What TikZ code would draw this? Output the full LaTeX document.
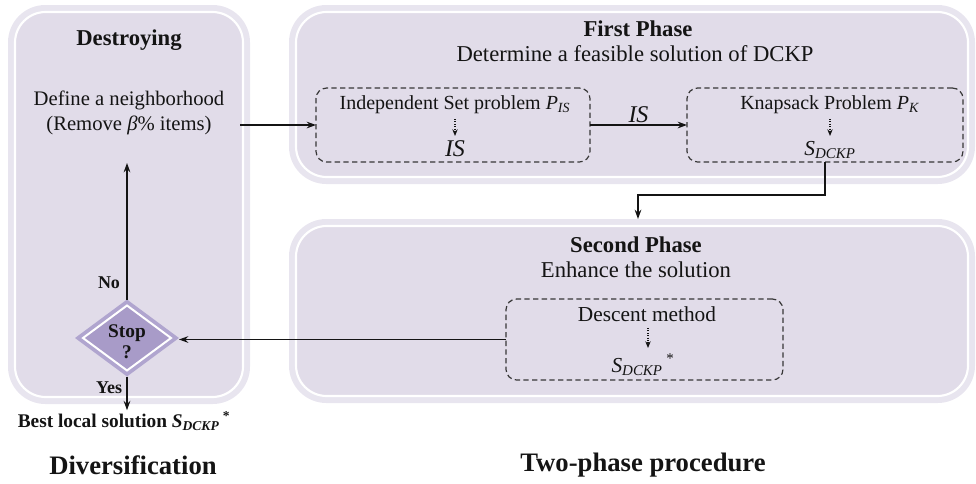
\documentclass[tikz,border=0pt]{standalone}
\usepackage{fontspec}
\setmainfont{Liberation Serif}
\usetikzlibrary{shapes.geometric,arrows.meta}
\definecolor{band}{HTML}{E8E5EF}
\definecolor{panelfill}{HTML}{E1DCE9}
\definecolor{dband}{HTML}{B0A5CF}
\definecolor{dfill}{HTML}{A89BC8}
\definecolor{ink}{HTML}{141414}
\newcommand{\SDCKP}{\textit{S}\textsubscript{\textit{DCKP}}}
\begin{document}
\begin{tikzpicture}[x=0.75pt,y=-0.75pt,
  every node/.style={text=ink, inner sep=1pt, outer sep=0pt},
  arr/.style={draw=ink, line width=1.1pt, -{Stealth[length=7pt,width=5pt]}},
  darr/.style={draw=ink, line width=0.8pt, densely dotted, -{Stealth[length=5pt,width=4pt]}},
  dbox/.style={draw=ink!85, line width=0.9pt, dash pattern=on 4pt off 2.5pt, rounded corners=8pt, inner sep=0pt},
  outerp/.style={fill=band, rounded corners=28pt, inner sep=0pt},
  innerp/.style={draw=white, line width=1.6pt, fill=panelfill, rounded corners=23pt, inner sep=0pt},
  ttl/.style={font=\bfseries\fontsize{17}{20}\selectfont},
  bigtxt/.style={font=\fontsize{17}{20}\selectfont},
  midtxt/.style={font=\fontsize{15.5}{18.75}\selectfont, align=center},
  inr/.style={font=\fontsize{15}{18}\selectfont},
  itl/.style={font=\itshape\fontsize{18}{20}\selectfont},
  hugetxt/.style={font=\bfseries\fontsize{20}{24}\selectfont},
  lbl/.style={font=\bfseries\fontsize{13.5}{16}\selectfont},
]
\useasboundingbox (0,0) rectangle (976,483);

% panels
\node[outerp, minimum width=181.5pt, minimum height=299.25pt] (leftpanel) at (129,204.5) {};
\node[innerp, minimum width=171pt, minimum height=288.75pt] (leftinner) at (129,204.5) {};
\node[outerp, minimum width=514.5pt, minimum height=134.25pt] (toppanel) at (632,94.5) {};
\node[innerp, minimum width=504pt, minimum height=123.75pt] (topinner) at (632,94.5) {};
\node[outerp, minimum width=514.5pt, minimum height=138pt] (botpanel) at (632,311) {};
\node[innerp, minimum width=504pt, minimum height=127.5pt] (botinner) at (632,311) {};

% left panel texts
\node[ttl] (dtitle) at (129,40) {Destroying};
\node[midtxt] (define) at (129,112.5) {Define a neighborhood\\(Remove \textit{β}\% items)};

% first phase
\node[ttl] (ftitle) at (638,29) {First Phase};
\node[bigtxt] (fsub) at (635,54) {Determine a feasible solution of DCKP};
\node[dbox, minimum width=205.5pt, minimum height=55.5pt] (isbox) at (453,125) {};
\node[dbox, minimum width=207pt, minimum height=55.5pt] (ksbox) at (825,125) {};
\node[inr] (isprob) at (455,105) {Independent Set problem \textit{P}\textsubscript{\textit{IS}}};
\node[itl] (isres) at (455,149) {IS};
\node[inr] (ksprob) at (830,105) {Knapsack Problem \textit{P}\textsubscript{\textit{K}}};
\node[font=\fontsize{16}{18}\selectfont] (ksres) at (830,150) {\SDCKP};
\coordinate (isa) at (455,119);
\coordinate (isb) at (455,136);
\coordinate (ksa) at (830,119);
\coordinate (ksb) at (830,136);
\draw[darr] (isa) -- (isb);
\draw[darr] (ksa) -- (ksb);
\draw[arr] (isbox.east) -- (ksbox.west) node[itl, midway, above=1pt] (islbl) {IS};

% second phase
\node[ttl] (stitle) at (636,245) {Second Phase};
\node[bigtxt] (ssub) at (636,270) {Enhance the solution};
\node[dbox, minimum width=207.75pt, minimum height=60.75pt] (dsbox) at (644.5,339.5) {};
\node[font=\fontsize{16}{18}\selectfont] (desc) at (647,314) {Descent method};
\node[font=\fontsize{16}{18}\selectfont] (dres) at (643,365) {\SDCKP\,\textsuperscript{*}};
\coordinate (dsa) at (648,328);
\coordinate (dsb) at (648,348);
\draw[darr] (dsa) -- (dsb);

% connector first -> second phase
\coordinate (bend) at (638,195);
\draw[arr] (ksbox.south) |- (bend) -- (botpanel.north -| bend);

% define -> first box
\coordinate (defout) at (240,125);
\draw[arr] (defout) -- (isbox.west);

% diamond
\node[shape=diamond, fill=dband, minimum width=78pt, minimum height=57.75pt, inner sep=0pt] (stop) at (127,338) {};
\node[shape=diamond, fill=dfill, draw=white, line width=1.5pt, minimum width=66pt, minimum height=48.75pt, inner sep=0pt] (stopin) at (127,338) {};
\node[lbl, align=center, font=\bfseries\fontsize{14.5}{16}\selectfont] (stoptxt) at (127,342) {Stop\\?};

\draw[arr] (dsbox.west) -- (dsbox.west -| stop.east);
\coordinate (uptip) at (127,163);
\draw[arr] (stop.north) -- (uptip);
\node[lbl] (no) at (109,283) {No};
\node[lbl] (yes) at (109,388) {Yes};

\node[font=\bfseries\fontsize{14.5}{17}\selectfont] (best) at (124,421) {Best local solution \SDCKP\,\textsuperscript{*}};
\draw[arr] (stop.south) -- (stop.south |- best.north);

\node[hugetxt] (divers) at (133,465) {Diversification};
\node[hugetxt] (twophase) at (643,465) {Two-phase procedure};
\end{tikzpicture}
\end{document}
